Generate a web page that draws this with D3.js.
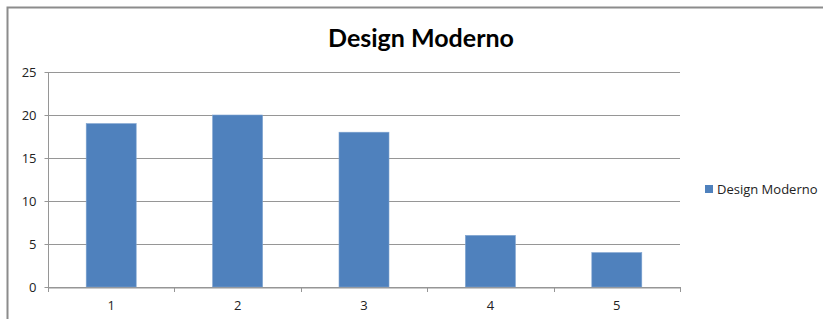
<!DOCTYPE html>
<html><head><meta charset="utf-8">
<script src="https://cdn.jsdelivr.net/npm/d3@7"></script>
<style>body{margin:0;background:#fff}svg{display:block}</style>
</head><body>
<script>
const categories = ["1","2","3","4","5"];
const values = [19, 20, 18, 6, 4];
const yTicks = [0, 5, 10, 15, 20, 25];
const seriesName = "Design Moderno";
const title = "Design Moderno";

const W = 823, H = 319;
const svg = d3.select("body").append("svg").attr("width", W).attr("height", H);
svg.append("rect").attr("width", W).attr("height", H).attr("fill", "#fff");

// outer chart border
svg.append("path").attr("d", `M7.5,${H+5} V7.5 H${W+5}`).attr("fill","none").attr("stroke","#8c8c8c").attr("stroke-width",2);

const m = {left:48, right:680, top:72, bottom:287};
const x = d3.scaleBand().domain(categories).range([m.left, m.right]).paddingInner(0).paddingOuter(0);
const y = d3.scaleLinear().domain([0,25]).range([m.bottom, m.top]);

const font = "'Open Sans', sans-serif";
const gc = "#969696";
// gridlines
svg.append("g").selectAll("line").data(yTicks).join("line")
  .attr("x1", m.left).attr("x2", m.right)
  .attr("y1", d=>Math.round(y(d))+0.5).attr("y2", d=>Math.round(y(d))+0.5)
  .attr("stroke", gc).attr("stroke-width", 1);

// bars
const bw = 50;
svg.append("g").selectAll("rect").data(values).join("rect")
  .attr("x", (d,i)=> x(categories[i]) + x.bandwidth()/2 - bw/2)
  .attr("y", d=>y(d)).attr("width", bw).attr("height", d=>y(0)-y(d))
  .attr("fill", "#4f81bd").attr("stroke","#7fa3cf").attr("stroke-width",0.6);

// y axis
const ya = svg.append("g").attr("transform", `translate(${m.left+0.5},0)`)
  .call(d3.axisLeft(y).tickValues(yTicks).tickSize(4).tickPadding(8));
ya.select(".domain").attr("stroke",gc).attr("d", `M0,${m.top} V${m.bottom}`);
ya.selectAll(".tick line").attr("stroke",gc);
ya.selectAll("text").attr("font-family", font).attr("font-size", 13).attr("fill","#222");

// x axis
const xa = svg.append("g").attr("transform", `translate(0,${Math.round(y(0))+0.5})`)
  .call(d3.axisBottom(x).tickSize(0).tickPadding(13));
xa.select(".domain").attr("stroke",gc);
xa.selectAll("text").attr("font-family", font).attr("font-size", 13).attr("fill","#222");
// boundary ticks
svg.append("g").selectAll("line").data(d3.range(categories.length+1)).join("line")
  .attr("x1", i=> Math.round(m.left + i*x.bandwidth())+0.5)
  .attr("x2", i=> Math.round(m.left + i*x.bandwidth())+0.5)
  .attr("y1", Math.round(y(0))).attr("y2", Math.round(y(0))+5)
  .attr("stroke",gc);

// title
const t = svg.append("text").attr("x", 421).attr("y", 47).attr("text-anchor","middle")
  .attr("font-family","Lato, 'Open Sans', sans-serif").attr("font-weight","bold")
  .attr("font-size", 24).attr("fill","#000").text(title);
const tw = t.node().getComputedTextLength();
t.attr("font-size", 24 * 186 / tw);

// legend
svg.append("rect").attr("x",705).attr("y",185).attr("width",8).attr("height",8).attr("fill","#4f81bd");
svg.append("text").attr("x",717).attr("y",193.5).attr("font-family", font).attr("font-size",13)
  .attr("fill","#222").text(seriesName);
</script>
</body></html>
